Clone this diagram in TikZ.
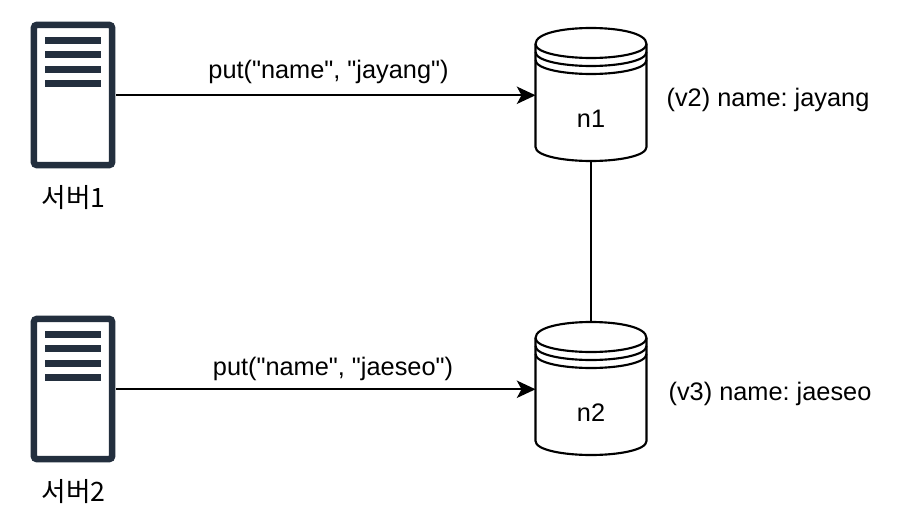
\documentclass[tikz,border=0pt]{standalone}
\usepackage{fontspec}
\newfontfamily\lsans{Liberation Sans}
\newfontfamily\krfont{Noto Sans CJK KR}
\usetikzlibrary{arrows.meta,calc}
\definecolor{srv}{HTML}{232F3E}
\tikzset{
  x=0.75pt,y=-0.75pt,
  lbl/.style={inner sep=0pt,font=\lsans\frenchspacing\fontsize{19pt}{23pt}\selectfont,text=black},
  krlbl/.style={inner sep=0pt,font=\krfont\fontsize{20pt}{24pt}\selectfont,text=black},
  box/.style={draw=none,inner sep=0pt,minimum width=85*0.75pt,minimum height=147*0.75pt},
  cylbox/.style={draw=none,inner sep=0pt,minimum width=111*0.75pt,minimum height=133*0.75pt},
  cyl/.style={draw=black,line width=1.6pt,fill=white},
  conn/.style={draw=black,line width=1.5pt},
  flow/.style={conn,-{Stealth[length=14pt,width=13pt,inset=3.5pt]}},
  srvline/.style={draw=srv,line width=4.9pt,rounded corners=2.5pt,fill=white},
  srvbar/.style={fill=srv,draw=none}
}
\newcommand{\serverbox}[3]{% name, left, top
  \node[box,anchor=north west] (#1) at (#2,#3) {};
  \draw[srvline] ($(#2,#3)+(3.3,3.3)$) rectangle ($(#2,#3)+(81.7,143.7)$);
  \foreach \yy in {15.5,29.5,44.5,58.5}{
    \fill[srvbar] ($(#2,#3)+(14.5,\yy)$) rectangle ($(#2,#3)+(70,\yy+6.7)$);
  }
}
\newcommand{\dbcyl}[3]{% name, left, top
  \node[cylbox,anchor=north west] (#1) at (#2,#3) {};
  \draw[cyl] ($(#2,#3)+(0,16)$)
    .. controls ($(#2,#3)+(0,5)$) and ($(#2,#3)+(28,0)$) .. ($(#2,#3)+(55.5,0)$)
    .. controls ($(#2,#3)+(83,0)$) and ($(#2,#3)+(111,5)$) .. ($(#2,#3)+(111,16)$)
    -- ($(#2,#3)+(111,119)$)
    .. controls ($(#2,#3)+(111,128)$) and ($(#2,#3)+(83,133)$) .. ($(#2,#3)+(55.5,133)$)
    .. controls ($(#2,#3)+(28,133)$) and ($(#2,#3)+(0,128)$) .. ($(#2,#3)+(0,119)$)
    -- cycle;
  \foreach \dd in {0,8,16}{
    \draw[cyl,fill=none] ($(#2,#3)+(0,16+\dd)$)
      .. controls ($(#2,#3)+(0,25+\dd)$) and ($(#2,#3)+(28,30+\dd)$) .. ($(#2,#3)+(55.5,30+\dd)$)
      .. controls ($(#2,#3)+(83,30+\dd)$) and ($(#2,#3)+(111,25+\dd)$) .. ($(#2,#3)+(111,16+\dd)$);
  }
}
\begin{document}
\begin{tikzpicture}
\useasboundingbox (0,0) rectangle (909,531);
\serverbox{s1}{30.5}{21.5}
\serverbox{s2}{30.5}{315.5}
\dbcyl{n1}{535.5}{28}
\dbcyl{n2}{535.5}{322}
\draw[flow] (s1.east) -- (s1.east -| n1.west);
\draw[flow] (s2.east) -- (s2.east -| n2.west);
\draw[conn] (n1.south) -- (n2.north);
\node[lbl] (tn1) at (591,119) {n1};
\node[lbl] (tn2) at (591,413) {n2};
\node[krlbl] (t1) at (73.5,197.5) {서버1};
\node[krlbl] (t2) at (73.5,491.5) {서버2};
\node[lbl] (p1) at (328.5,72) {put("name", "jayang")};
\node[lbl] (p2) at (333,368.5) {put("name", "jaeseo")};
\node[lbl] (v1) at (768,99.5) {(v2) name: jayang};
\node[lbl] (v2) at (770,393.5) {(v3) name: jaeseo};
\end{tikzpicture}
\end{document}
